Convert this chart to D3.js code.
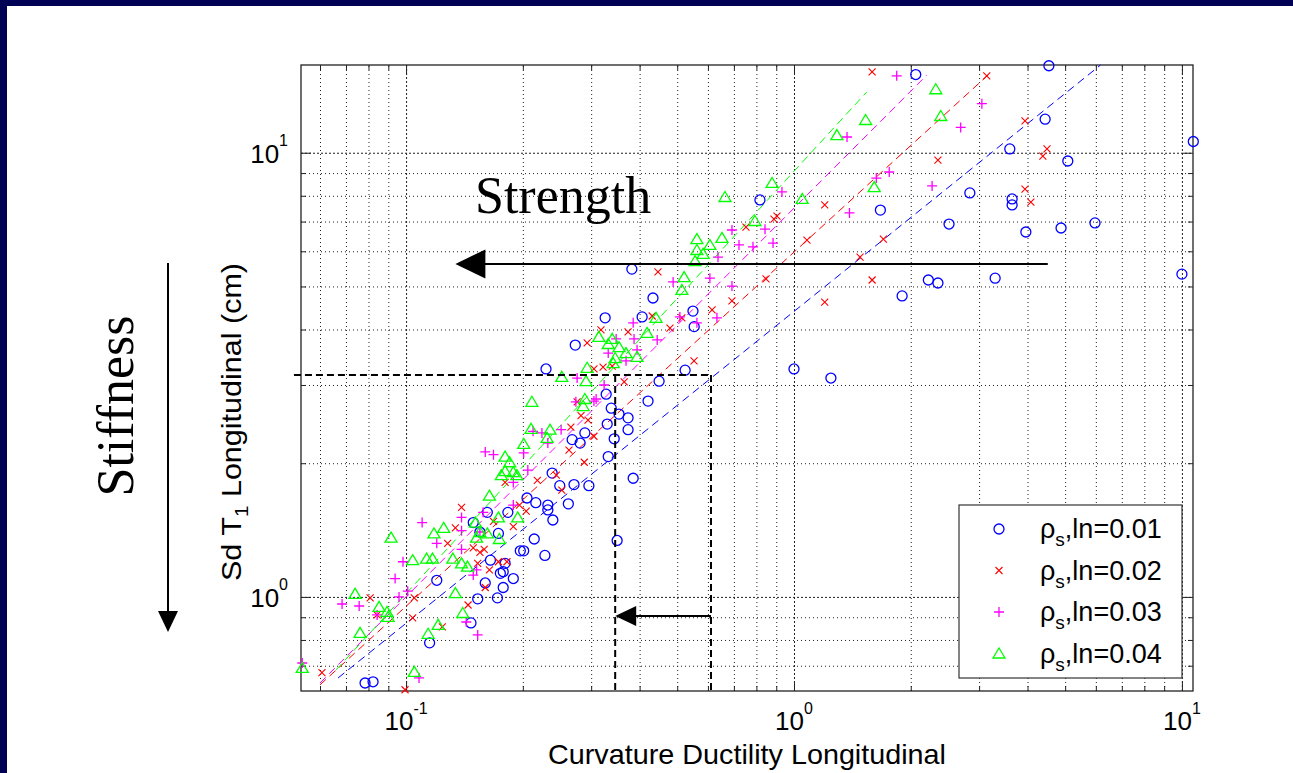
<!DOCTYPE html>
<html>
<head>
<meta charset="utf-8">
<script src="https://cdn.jsdelivr.net/npm/d3@7"></script>
<style>
  body { margin: 0; background: #fff; }
  svg { display: block; }
  text { font-family: "Liberation Sans", Arial, sans-serif; fill: #000; }
</style>
</head>
<body>
<script>
// ---- data ----
const legendLabels = ["0.01", "0.02", "0.03", "0.04"];
const xTickExps = [-1, 0, 1];
const yTickExps = [0, 1];

const rho001 = [
  [4.54,15.7],[2.06,15.0],[4.44,11.9],[10.7,10.6],[3.60,10.2],[5.08,9.58],[0.817,7.83],[2.84,8.12],
  [3.65,7.87],[3.65,7.63],[1.67,7.43],[2.51,6.91],[3.96,6.63],[4.88,6.77],[5.97,6.95],[10.0,5.33],
  [3.30,5.22],[2.22,5.17],[2.35,5.09],[1.90,4.76],[0.549,4.40],[0.553,4.06],[0.524,3.24],[1.0,3.26],
  [1.245,3.11],[0.382,5.47],[0.433,4.71],[0.406,4.27],[0.326,4.25],[0.273,3.69],[0.2295,3.26],[0.449,3.06],
  [0.328,2.86],[0.4205,2.76],[0.338,2.66],[0.354,2.58],[0.3735,2.53],[0.330,2.45],[0.3735,2.38],[0.289,2.34],
  [0.268,2.26],[0.281,2.22],[0.344,2.27],[0.332,2.07],[0.238,1.90],[0.385,1.85],[0.249,1.78],[0.271,1.79],
  [0.296,1.78],[0.205,1.67],[0.216,1.63],[0.232,1.61],[0.262,1.62],[0.232,1.57],[0.239,1.49],[0.183,1.55],
  [0.214,1.35],[0.350,1.34],[0.197,1.27],[0.201,1.27],[0.228,1.24],[0.180,1.19],[0.189,1.10],[0.178,1.14],
  [0.178,1.05],[0.162,1.55],[0.149,1.47],[0.155,1.40],[0.173,1.39],[0.165,1.21],[0.120,1.09],[0.160,1.075],
  [0.175,1.13],[0.153,0.99],[0.172,0.995],[0.147,0.874],[0.115,0.788],[0.0784,0.640],[0.0822,0.644]
];
const rho002 = [
  [1.59,15.2],[3.14,14.9],[3.94,11.8],[4.49,10.2],[4.38,9.83],[2.35,9.63],[3.94,8.28],[4.08,7.74],
  [1.20,7.63],[0.904,7.20],[0.888,7.09],[0.752,6.80],[1.08,6.36],[1.70,6.39],[1.48,5.82],[1.59,5.17],
  [0.847,5.20],[0.692,4.64],[0.615,4.43],[1.20,4.61],[0.514,4.25],[0.446,5.39],[0.318,3.99],[0.3735,3.95],
  [0.293,3.73],[0.431,4.29],[0.479,4.03],[0.5525,3.40],[0.305,3.26],[0.322,3.29],[0.340,3.31],[0.365,3.05],
  [0.276,2.75],[0.2825,2.56],[0.2945,2.50],[0.266,2.41],[0.305,2.30],[0.263,2.14],[0.288,2.01],[0.218,1.83],
  [0.244,1.88],[0.180,1.81],[0.252,1.74],[0.196,1.61],[0.204,1.56],[0.189,1.44],[0.139,1.59],[0.134,1.43],
  [0.128,1.32],[0.149,1.29],[0.155,1.26],[0.159,1.28],[0.153,1.19],[0.164,1.15],[0.173,1.20],[0.182,1.20],
  [0.168,1.48],[0.160,1.05],[0.1445,0.959],[0.124,0.856],[0.0808,0.995],[0.105,0.995],[0.0842,0.911],
  [0.104,0.897],[0.0607,0.675],[0.0994,0.618]
];
const rho003 = [
  [1.84,14.9],[3.05,12.9],[2.69,11.4],[1.37,10.85],[1.76,9.05],[1.63,8.77],[2.27,8.42],[0.931,8.16],
  [1.39,7.32],[0.692,6.70],[0.842,6.73],[0.7215,6.20],[0.784,6.14],[0.883,6.26],[0.637,5.82],[0.607,5.22],
  [0.692,5.01],[0.633,4.25],[0.562,4.14],[0.508,4.27],[0.488,5.12],[0.385,4.14],[0.387,3.81],[0.444,3.79],
  [0.394,3.60],[0.348,3.81],[0.332,3.54],[0.369,3.40],[0.276,3.11],[0.324,3.00],[0.305,2.76],[0.274,2.75],
  [0.309,2.79],[0.251,2.38],[0.232,2.22],[0.224,2.34],[0.2125,2.36],[0.201,2.11],[0.206,1.93],[0.160,2.12],
  [0.168,2.09],[0.189,1.81],[0.189,1.61],[0.158,1.55],[0.139,1.51],[0.155,1.40],[0.139,1.41],[0.120,1.32],
  [0.139,1.28],[0.152,1.15],[0.149,1.12],[0.110,1.47],[0.0982,1.20],[0.0937,1.10],[0.101,1.03],[0.0959,1.0],
  [0.0684,0.964],[0.0757,0.954],[0.0842,0.911],[0.143,0.878],[0.153,0.821],[0.054,0.710],[0.108,0.657]
];
const rho004 = [
  [2.32,13.9],[1.53,11.85],[2.39,12.1],[1.29,10.96],[0.878,8.55],[0.664,7.95],[1.05,7.87],[1.61,8.37],
  [0.793,7.02],[0.652,6.43],[0.562,6.39],[0.607,6.20],[0.562,6.04],[0.583,5.92],[0.556,5.70],[0.521,5.25],
  [0.514,4.91],[0.441,4.25],[0.418,3.93],[0.314,3.85],[0.340,3.81],[0.354,3.65],[0.332,3.71],[0.369,3.54],
  [0.394,3.47],[0.346,3.45],[0.342,3.36],[0.293,3.28],[0.291,3.06],[0.252,3.13],[0.211,2.75],[0.289,2.79],
  [0.286,2.69],[0.210,2.39],[0.235,2.38],[0.231,2.28],[0.201,2.21],[0.180,2.07],[0.185,2.01],[0.180,1.92],
  [0.176,1.88],[0.189,1.91],[0.193,1.88],[0.164,1.69],[0.194,1.51],[0.173,1.51],[0.125,1.43],[0.118,1.39],
  [0.151,1.47],[0.155,1.40],[0.162,1.39],[0.152,1.36],[0.174,1.35],[0.0915,1.36],[0.104,1.21],[0.113,1.22],
  [0.117,1.22],[0.132,1.22],[0.139,1.19],[0.144,1.17],[0.134,1.02],[0.0739,1.016],[0.0852,0.95],
  [0.0893,0.925],[0.0899,0.902],[0.140,0.92],[0.121,0.865],[0.114,0.826],[0.0761,0.83],[0.054,0.692],[0.105,0.678]
];

// fitted trend lines (end points)
const fit001 = [[0.0668,0.657],[6.17,15.76]];
const fit002 = [[0.060,0.634],[3.20,15.1]];
const fit003 = [[0.060,0.640],[2.20,14.96]];
const fit004 = [[0.066,0.685],[1.54,13.7]];

// annotation values
const refY = 3.16, refX1 = 0.611, refX2 = 0.346, refXLeft = 0.0514;
const smallArrowY = 0.906;
const strengthY = 5.62, strengthX = [0.134, 4.51];

// ---- layout ----
const W = 1293, H = 773;
const pL = 301, pR = 1193, pT = 65, pB = 691;

const svg = d3.select("body").append("svg").attr("width", W).attr("height", H);

// slide frame
svg.append("rect").attr("x", 0).attr("y", 0).attr("width", W).attr("height", 6).attr("fill", "#000055");
svg.append("rect").attr("x", 0).attr("y", 0).attr("width", 7).attr("height", H).attr("fill", "#000055");

const x = d3.scaleLog().domain([0.0536, 10.68]).range([pL, pR]);
const y = d3.scaleLog().domain([0.614, 15.76]).range([pB, pT]);

const inDom = (s) => (v) => v >= s.domain()[0] - 1e-9 && v <= s.domain()[1] + 1e-9;
const xAll = x.ticks().filter(inDom(x));
const yAll = y.ticks().filter(inDom(y));
const xMajor = xTickExps.map((e) => Math.pow(10, e));
const yMajor = yTickExps.map((e) => Math.pow(10, e));
const isMajor = (v) => Math.abs(Math.log10(v) - Math.round(Math.log10(v))) < 1e-6;
const xMinor = xAll.filter((v) => !isMajor(v));
const yMinor = yAll.filter((v) => !isMajor(v));

// ---- grid ----
function grid(g, dash) {
  g.selectAll(".domain").remove();
  g.selectAll("line").attr("stroke", "#222").attr("stroke-width", 1).attr("stroke-dasharray", dash);
}
svg.append("g").attr("transform", `translate(0,${pB})`)
  .call(d3.axisBottom(x).tickValues(xMinor).tickSize(-(pB - pT)).tickFormat(""))
  .call((g) => grid(g, "1,3"));
svg.append("g").attr("transform", `translate(${pL},0)`)
  .call(d3.axisLeft(y).tickValues(yMinor).tickSize(-(pR - pL)).tickFormat(""))
  .call((g) => grid(g, "1,3"));
svg.append("g").attr("transform", `translate(0,${pB})`)
  .call(d3.axisBottom(x).tickValues(xMajor).tickSize(-(pB - pT)).tickFormat(""))
  .call((g) => grid(g, "2,2"));
svg.append("g").attr("transform", `translate(${pL},0)`)
  .call(d3.axisLeft(y).tickValues(yMajor).tickSize(-(pR - pL)).tickFormat(""))
  .call((g) => grid(g, "2,2"));

// ---- ticks on all four sides (inside) ----
function ticks(g) {
  g.selectAll(".domain").remove();
  g.selectAll("line").attr("stroke", "#222").attr("stroke-width", 1);
}
[[xMinor, 5], [xMajor, 10]].forEach(([vals, len]) => {
  svg.append("g").attr("transform", `translate(0,${pB})`)
    .call(d3.axisBottom(x).tickValues(vals).tickSize(-len).tickFormat("")).call(ticks);
  svg.append("g").attr("transform", `translate(0,${pT})`)
    .call(d3.axisTop(x).tickValues(vals).tickSize(-len).tickFormat("")).call(ticks);
});
[[yMinor, 5], [yMajor, 10]].forEach(([vals, len]) => {
  svg.append("g").attr("transform", `translate(${pL},0)`)
    .call(d3.axisLeft(y).tickValues(vals).tickSize(-len).tickFormat("")).call(ticks);
  svg.append("g").attr("transform", `translate(${pR},0)`)
    .call(d3.axisRight(y).tickValues(vals).tickSize(-len).tickFormat("")).call(ticks);
});

svg.append("rect").attr("x", pL).attr("y", pT)
  .attr("width", pR - pL).attr("height", pB - pT)
  .attr("fill", "none").attr("stroke", "#222").attr("stroke-width", 1.3);

// ---- tick labels 10^n ----
xTickExps.forEach((e) => {
  const t = svg.append("text").attr("x", x(Math.pow(10, e))).attr("y", 730)
    .attr("text-anchor", "middle").attr("font-size", 26);
  t.append("tspan").text("10");
  t.append("tspan").attr("dy", -16).attr("font-size", 16).text(String(e));
});
yTickExps.forEach((e) => {
  const t = svg.append("text").attr("x", 288).attr("y", y(Math.pow(10, e)) + 10)
    .attr("text-anchor", "end").attr("font-size", 26);
  t.append("tspan").text("10");
  t.append("tspan").attr("dy", -17).attr("font-size", 16).text(String(e));
});

// axis titles
svg.append("text").attr("x", 747).attr("y", 764)
  .attr("text-anchor", "middle").attr("font-size", 28)
  .attr("textLength", 398).attr("lengthAdjust", "spacingAndGlyphs")
  .text("Curvature Ductility Longitudinal");
const yl = svg.append("text").attr("transform", "translate(241,422) rotate(-90)")
  .attr("text-anchor", "middle").attr("font-size", 28)
  .attr("textLength", 318).attr("lengthAdjust", "spacingAndGlyphs");
yl.append("tspan").text("Sd T");
yl.append("tspan").attr("dy", 7).attr("font-size", 19).text("1");
yl.append("tspan").attr("dy", -7).text(" Longitudinal (cm)");

// ---- fit lines ----
const line = d3.line().x((d) => x(d[0])).y((d) => y(d[1]));
const colors = ["#0000ff", "#ff0000", "#ff00ff", "#00ff00"];
const fits = [fit001, fit002, fit003, fit004];
fits.forEach((f, i) => {
  svg.append("path").attr("d", line(f)).attr("fill", "none")
    .attr("stroke", colors[i]).attr("stroke-width", 1).attr("stroke-dasharray", "8,5");
});

// ---- markers ----
const shapes = {
  circle: (g, c) => g.append("circle").attr("r", 5).attr("fill", "none").attr("stroke", c).attr("stroke-width", 1.3),
  xmark: (g, c) => g.append("path").attr("d", "M-3.5,-3.5L3.5,3.5M-3.5,3.5L3.5,-3.5").attr("stroke", c).attr("stroke-width", 1.1),
  plus: (g, c) => g.append("path").attr("d", "M-5,0H5M0,-5V5").attr("stroke", c).attr("stroke-width", 1.3),
  tri: (g, c) => g.append("path").attr("d", "M0,-5.5L6,4.5H-6Z").attr("fill", "none").attr("stroke", c).attr("stroke-width", 1.3)
};
const seriesSym = ["circle", "xmark", "plus", "tri"];
const seriesData = [rho001, rho002, rho003, rho004];

seriesData.forEach((pts, i) => {
  const g = svg.append("g");
  pts.forEach((d) => {
    const m = g.append("g").attr("transform", `translate(${x(d[0])},${y(d[1])})`);
    shapes[seriesSym[i]](m, colors[i]);
  });
});

// ---- annotations ----
const dash = { stroke: "#000", "stroke-width": 2, "stroke-dasharray": "7,4", fill: "none" };
function seg(x1, y1, x2, y2, style) {
  const p = svg.append("line").attr("x1", x1).attr("y1", y1).attr("x2", x2).attr("y2", y2);
  Object.entries(style).forEach(([k, v]) => p.attr(k, v));
  return p;
}
seg(x(refXLeft), y(refY), x(refX1), y(refY), dash);
seg(x(refX1), y(refY), x(refX1), pB, dash);
seg(x(refX2), y(refY), x(refX2), pB, dash);

const solid = { stroke: "#000", "stroke-width": 2 };
function arrowLeft(xTip, xEnd, yy, len, half) {
  seg(xTip + len - 1, yy, xEnd, yy, solid);
  svg.append("path").attr("d", `M${xTip},${yy}L${xTip + len},${yy - half}L${xTip + len},${yy + half}Z`).attr("fill", "#000");
}
arrowLeft(x(strengthX[0]), x(strengthX[1]), y(strengthY), 30, 14.5);
arrowLeft(x(refX2), x(refX1), y(smallArrowY), 21, 10);

svg.append("text").attr("x", 475).attr("y", 213)
  .style("font-family", "'Liberation Serif', 'Times New Roman', serif").attr("font-size", 52)
  .text("Strength");

svg.append("text").attr("transform", "translate(133,406) rotate(-90)")
  .attr("text-anchor", "middle")
  .style("font-family", "'Liberation Serif', 'Times New Roman', serif").attr("font-size", 52)
  .text("Stiffness");
seg(168, 263, 168, 612, solid);
svg.append("path").attr("d", "M158,611L178,611L168,632Z").attr("fill", "#000");

// ---- legend ----
const lg = svg.append("g");
lg.append("rect").attr("x", 959).attr("y", 505).attr("width", 223).attr("height", 173)
  .attr("fill", "#fff").attr("stroke", "#333").attr("stroke-width", 1.2);
legendLabels.forEach((lab, i) => {
  const yy = 529 + i * 41.5;
  const m = lg.append("g").attr("transform", `translate(999,${yy})`);
  shapes[seriesSym[i]](m, colors[i]);
  const t = lg.append("text").attr("x", 1040).attr("y", yy + 9).attr("font-size", 27);
  t.append("tspan").text("ρ");
  t.append("tspan").attr("dy", 8).attr("font-size", 19).text("s");
  t.append("tspan").attr("dy", -8).text(",ln=" + lab);
});
</script>
</body>
</html>
